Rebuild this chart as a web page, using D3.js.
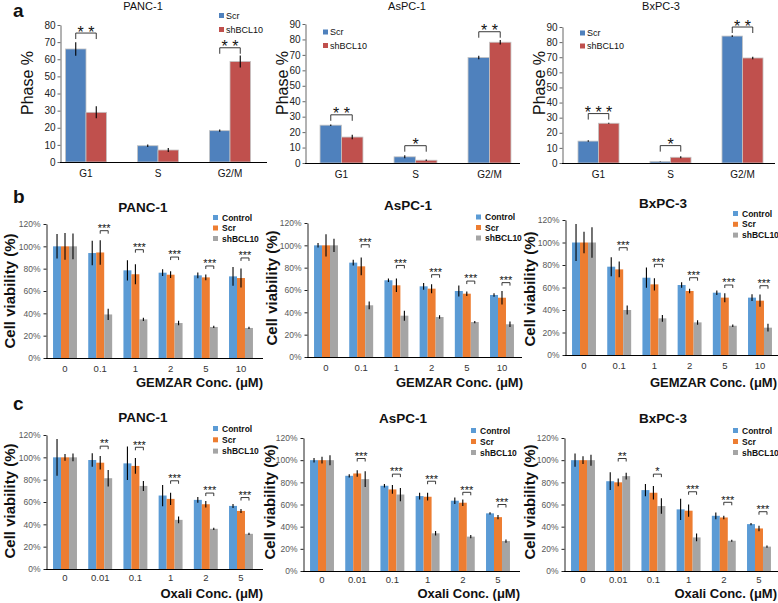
<!DOCTYPE html>
<html><head><meta charset="utf-8">
<script src="https://cdn.jsdelivr.net/npm/d3@7"></script>
<style>body{margin:0;background:#fff}svg{display:block}</style>
</head><body><svg id="c" width="778" height="603"></svg>
<script>
// ---------------- DATA ----------------
const PHASES = ["G1", "S", "G2/M"];
const PHASE_SERIES = ["Scr", "shBCL10"];

const A_PANC_SCR = [66, 9.5, 18.3];
const A_PANC_SCR_ERR = [4, 0.7, 0.7];
const A_PANC_SH = [29, 7, 58.7];
const A_PANC_SH_ERR = [3.5, 1.2, 3.5];
const A_PANC_STARS = ["* *", "", "* *"];
const A_PANC_BRACKET = [75.3, null, 66.7];

const A_AS_SCR = [24.5, 4, 68.3];
const A_AS_SCR_ERR = [0.5, 1, 1.2];
const A_AS_SH = [16.8, 1.8, 78.2];
const A_AS_SH_ERR = [1.5, 0.5, 1.5];
const A_AS_STARS = ["* *", "*", "* *"];
const A_AS_BRACKET = [31.2, 11.2, 85];

const A_BX_SCR = [14.5, 1, 84];
const A_BX_SCR_ERR = [0.5, 0.2, 0.6];
const A_BX_SH = [26.3, 3.8, 69.5];
const A_BX_SH_ERR = [0.4, 0.6, 0.8];
const A_BX_STARS = ["* * *", "*", "* *"];
const A_BX_BRACKET = [32.7, 11.5, 90];

const VIAB_SERIES = ["Control", "Scr", "shBCL10"];
const GEM_CONC = ["0", "0.1", "1", "2", "5", "10"];
const OXA_CONC = ["0", "0.01", "0.1", "1", "2", "5"];

const B_PANC_CTRL = [100, 94, 78.5, 76.4, 74, 73.1];
const B_PANC_CTRL_ERR = [11, 11, 9, 3, 2.5, 8.5];
const B_PANC_SCR = [100, 94.5, 75, 74.6, 72.2, 71.6];
const B_PANC_SCR_ERR = [12, 11, 9, 3, 2.5, 8.5];
const B_PANC_SH = [100, 39, 34.6, 31.3, 27.8, 26.9];
const B_PANC_SH_ERR = [11.5, 5, 1.5, 2, 1, 1];
const B_PANC_STARS = ["", "***", "***", "***", "***", "***"];
const B_PANC_BRACKET = [null, 114, 97, 90.4, 82.4, 89.6];

const B_AS_CTRL = [100, 84.5, 68.7, 63.3, 59.1, 55.5];
const B_AS_CTRL_ERR = [2, 2.5, 1.5, 3, 5, 1.5];
const B_AS_SCR = [100, 81.2, 64.2, 61.2, 56.7, 53.1];
const B_AS_SCR_ERR = [10, 8, 6, 4, 2, 6];
const B_AS_SH = [100, 46.3, 37, 35.8, 31.3, 29.3];
const B_AS_SH_ERR = [6, 3.5, 4.5, 1.5, 1, 2.5];
const B_AS_STARS = ["", "***", "***", "***", "***", "***"];
const B_AS_BRACKET = [null, 100.6, 82, 73.7, 68, 66.6];

const B_BX_CTRL = [100, 78.5, 68.7, 62.2, 55.4, 51];
const B_BX_CTRL_ERR = [16.5, 8.5, 9, 2.5, 2, 3];
const B_BX_SCR = [100, 76.1, 62.8, 56.9, 51, 48.3];
const B_BX_SCR_ERR = [9.5, 7, 5.5, 2, 4, 5.5];
const B_BX_SH = [100, 40, 32.6, 29, 26, 24.3];
const B_BX_SH_ERR = [13.5, 4, 3, 2, 1.2, 3.5];
const B_BX_STARS = ["", "***", "***", "***", "***", "***"];
const B_BX_BRACKET = [null, 95.4, 80.6, 68.7, 62.2, 61.6];

const C_PANC_CTRL = [100, 97.6, 94.6, 65.8, 61.9, 56.5];
const C_PANC_CTRL_ERR = [16.5, 6, 15, 9.5, 2.5, 1.8];
const C_PANC_SCR = [100, 95.2, 92.3, 62.8, 58, 52];
const C_PANC_SCR_ERR = [3, 6, 7, 5.5, 3, 1.8];
const C_PANC_SH = [100, 81.3, 74.4, 44, 36, 31.5];
const C_PANC_SH_ERR = [3.5, 7.4, 4.5, 3, 1, 1];
const C_PANC_STARS = ["", "**", "***", "***", "***", "***"];
const C_PANC_BRACKET = [null, 110, 109, 79, 68, 64];

const C_AS_CTRL = [100, 85.9, 76.9, 67.6, 63.4, 52];
const C_AS_CTRL_ERR = [2, 1.5, 1.5, 3, 3, 1];
const C_AS_SCR = [100, 88, 73.6, 67, 61.6, 48.6];
const C_AS_SCR_ERR = [3, 3, 4, 3.5, 3, 2];
const C_AS_SH = [100, 82.9, 69, 34, 31, 27];
const C_AS_SH_ERR = [4.5, 7, 6, 2, 1.5, 1.5];
const C_AS_STARS = ["", "***", "***", "***", "***", "***"];
const C_AS_BRACKET = [null, 101.5, 87.4, 81, 71, 60];

const C_BX_CTRL = [100, 81, 73, 55.6, 49.8, 42.3];
const C_BX_CTRL_ERR = [6, 8, 5.5, 9.5, 3, 1];
const C_BX_SCR = [100, 80, 70.6, 54.4, 48.3, 38.4];
const C_BX_SCR_ERR = [3.5, 3.5, 6, 5.5, 1.5, 2.5];
const C_BX_SH = [100, 85.6, 58.6, 30.3, 27.3, 22];
const C_BX_SH_ERR = [5, 3, 7, 3.5, 1, 1];
const C_BX_STARS = ["", "**", "*", "***", "***", "***"];
const C_BX_BRACKET = [null, 101.5, 87.4, 71.5, 62, 53.5];

// ---------------- DRAWING ----------------
const FONT = "'Liberation Sans', Arial, Helvetica, sans-serif";
const svg = d3.select("#c").attr("font-family", FONT);

function drawPanel(o) {
  const g = svg.append("g");
  const x0 = d3.scaleBand().domain(o.cats).range(o.band).paddingInner(o.pi).paddingOuter(o.po);
  const x1 = d3.scaleBand().domain(o.names).range([0, x0.bandwidth()]);
  const y = d3.scaleLinear().domain(o.yDomain).range(o.yRange);

  // y axis
  const yAxis = d3.axisLeft(y)
    .tickValues(d3.range(o.yDomain[0], o.yDomain[1] + 1e-9, o.yStep))
    .tickFormat(o.fmt).tickSizeInner(o.tick).tickSizeOuter(0).tickPadding(o.tickPad);
  const yg = g.append("g").attr("transform", `translate(${o.axisX + 0.5},0)`).call(yAxis)
    .attr("font-family", FONT).attr("font-size", o.yTickFont);
  yg.select(".domain").attr("stroke", o.yAxisColor);
  yg.selectAll(".tick line").attr("stroke", o.yAxisColor);
  yg.selectAll(".tick text").attr("fill", o.tickColor);

  // bars
  o.names.forEach((n, si) => {
    g.append("g").selectAll("rect").data(o.cats).join("rect")
      .attr("x", c => x0(c) + x1(n))
      .attr("width", x1.bandwidth())
      .attr("y", (c, i) => y(o.values[si][i]))
      .attr("height", (c, i) => y(0) - y(o.values[si][i]))
      .attr("fill", o.colors[si])
      .attr("stroke", o.barStroke)
      .attr("stroke-width", o.barStroke === "none" ? 0 : 0.8);
  });
  // error bars
  o.names.forEach((n, si) => {
    g.append("g").selectAll("line").data(o.cats).join("line")
      .attr("x1", c => x0(c) + x1(n) + x1.bandwidth() / 2)
      .attr("x2", c => x0(c) + x1(n) + x1.bandwidth() / 2)
      .attr("y1", (c, i) => y(o.values[si][i] - o.errs[si][i]))
      .attr("y2", (c, i) => y(o.values[si][i] + o.errs[si][i]))
      .attr("stroke", "#000").attr("stroke-width", 1.1);
  });

  // x axis
  const xg = g.append("g").attr("transform", `translate(0,${y(0)})`)
    .call(d3.axisBottom(x0).tickSize(0).tickPadding(o.xTickPad))
    .attr("font-family", FONT).attr("font-size", o.xTickFont);
  xg.select(".domain").remove();
  xg.selectAll("text").attr("fill", o.xTickColor);
  g.append("line").attr("x1", o.axisX).attr("x2", o.axisEnd)
    .attr("y1", Math.round(y(0)) + 0.5).attr("y2", Math.round(y(0)) + 0.5)
    .attr("stroke", "#000").attr("stroke-width", 1);

  // significance brackets
  o.cats.forEach((c, i) => {
    if (o.bracket[i] == null) return;
    const xa = x0(c) + x1(o.names[o.pair[0]]) + x1.bandwidth() / 2;
    const xb = x0(c) + x1(o.names[o.pair[1]]) + x1.bandwidth() / 2;
    const yb = y(o.bracket[i]);
    g.append("path").attr("d", `M${xa},${yb + o.bTick}V${yb}H${xb}V${yb + o.bTick}`)
      .attr("fill", "none").attr("stroke", "#222").attr("stroke-width", 0.9);
    g.append("text").attr("x", (xa + xb) / 2).attr("y", yb + o.starDy)
      .attr("text-anchor", "middle").attr("font-size", o.starFont).attr("fill", "#111")
      .text(o.stars[i]);
  });

  // legend
  o.names.forEach((n, si) => {
    const cy = o.leg.y + si * o.leg.dy;
    g.append("rect").attr("x", o.leg.x).attr("y", cy - o.legSize / 2)
      .attr("width", o.legSize).attr("height", o.legSize).attr("fill", o.colors[si]);
    g.append("text").attr("x", o.leg.x + o.legTextDx).attr("y", cy + o.legFont * 0.36)
      .attr("font-size", o.legFont).attr("font-weight", o.legWeight).attr("fill", "#111").text(n);
  });

  // title
  g.append("text").attr("x", o.title.x).attr("y", o.title.y).attr("text-anchor", "middle")
    .attr("font-size", o.titleFont).attr("font-weight", o.titleWeight).attr("fill", "#111").text(o.title.text);
  // y label
  g.append("text").attr("transform", `translate(${o.ylab.x},${o.ylab.y}) rotate(-90)`)
    .attr("text-anchor", "middle").attr("font-size", o.ylabFont).attr("font-weight", o.ylabWeight)
    .attr("fill", "#111").text(o.ylabText);
  // x label
  if (o.xlab) {
    g.append("text").attr("x", o.xlab.x).attr("y", o.xlab.y).attr("text-anchor", "end")
      .attr("font-size", o.xlabFont).attr("font-weight", "bold").attr("fill", "#111").text(o.xlab.text);
  }
}

const aStyle = {
  cats: PHASES, names: PHASE_SERIES, colors: ["#4f81bd", "#c0504d"], pair: [0, 1],
  pi: 0.43, po: 0.215, yStep: 10, fmt: d3.format("d"), tick: 3, tickPad: 2,
  yTickFont: 10, xTickFont: 10, xTickPad: 8, tickColor: "#222", xTickColor: "#111", yAxisColor: "#666",
  barStroke: "#c4c4c4", bTick: 6, starFont: 16, starDy: 4.5,
  legFont: 9, legWeight: "normal", legSize: 5, legTextDx: 7,
  titleFont: 11, titleWeight: "normal", ylabText: "Phase %", ylabFont: 16, ylabWeight: "normal"
};
const vStyle = {
  names: VIAB_SERIES, colors: ["#5b9bd5", "#ed7d31", "#a5a5a5"], pair: [1, 2],
  pi: 0.32, po: 0.2, yDomain: [0, 120], yStep: 20, fmt: d => d + "%", tick: 3, tickPad: 3,
  yTickFont: 8.5, xTickFont: 9.5, xTickPad: 7, tickColor: "#595959", xTickColor: "#333", yAxisColor: "#222",
  barStroke: "none", bTick: 3, starFont: 11, starDy: 1.3,
  legFont: 8.5, legWeight: "bold", legSize: 5, legTextDx: 9,
  titleFont: 13.5, titleWeight: "bold", ylabText: "Cell viability (%)", ylabFont: 15, ylabWeight: "bold",
  xlabFont: 13
};

// panel a
drawPanel(Object.assign({}, aStyle, {
  values: [A_PANC_SCR, A_PANC_SH], errs: [A_PANC_SCR_ERR, A_PANC_SH_ERR],
  stars: A_PANC_STARS, bracket: A_PANC_BRACKET,
  band: [50, 266], axisX: 60, axisEnd: 267, yDomain: [0, 80], yRange: [162, 25],
  title: {x: 143, y: 10, text: "PANC-1"}, ylab: {x: 33, y: 83}, leg: {x: 219, y: 15.5, dy: 14}
}));
drawPanel(Object.assign({}, aStyle, {
  values: [A_AS_SCR, A_AS_SH], errs: [A_AS_SCR_ERR, A_AS_SH_ERR],
  stars: A_AS_STARS, bracket: A_AS_BRACKET, pi: 0.42, po: 0.21,
  band: [304.5, 526.5], axisX: 305, axisEnd: 520, yDomain: [0, 90], yRange: [163, 24],
  title: {x: 407, y: 10, text: "AsPC-1"}, ylab: {x: 288, y: 83}, leg: {x: 323, y: 32, dy: 13.5}
}));
drawPanel(Object.assign({}, aStyle, {
  values: [A_BX_SCR, A_BX_SH], errs: [A_BX_SCR_ERR, A_BX_SH_ERR],
  stars: A_BX_STARS, bracket: A_BX_BRACKET,
  band: [562.5, 778.5], axisX: 562, axisEnd: 775, yDomain: [0, 90], yRange: [163, 27],
  title: {x: 661, y: 10, text: "BxPC-3"}, ylab: {x: 545, y: 83}, leg: {x: 580, y: 33, dy: 13}
}));

// panel b
drawPanel(Object.assign({}, vStyle, {
  cats: GEM_CONC, values: [B_PANC_CTRL, B_PANC_SCR, B_PANC_SH],
  errs: [B_PANC_CTRL_ERR, B_PANC_SCR_ERR, B_PANC_SH_ERR], stars: B_PANC_STARS, bracket: B_PANC_BRACKET,
  band: [46, 260], axisX: 46, axisEnd: 263, yRange: [358, 224],
  title: {x: 143, y: 212, text: "PANC-1"}, ylab: {x: 15, y: 291}, leg: {x: 213, y: 217.5, dy: 10.5},
  xlab: {x: 263, y: 387, text: "GEMZAR Conc. (μM)"}
}));
drawPanel(Object.assign({}, vStyle, {
  cats: GEM_CONC, values: [B_AS_CTRL, B_AS_SCR, B_AS_SH],
  errs: [B_AS_CTRL_ERR, B_AS_SCR_ERR, B_AS_SH_ERR], stars: B_AS_STARS, bracket: B_AS_BRACKET,
  band: [307, 521], axisX: 307, axisEnd: 522, yRange: [357, 223],
  title: {x: 408, y: 210, text: "AsPC-1"}, ylab: {x: 277, y: 288}, leg: {x: 476, y: 217, dy: 10.5},
  xlab: {x: 523, y: 387, text: "GEMZAR Conc. (μM)"}
}));
drawPanel(Object.assign({}, vStyle, {
  cats: GEM_CONC, values: [B_BX_CTRL, B_BX_SCR, B_BX_SH],
  errs: [B_BX_CTRL_ERR, B_BX_SCR_ERR, B_BX_SH_ERR], stars: B_BX_STARS, bracket: B_BX_BRACKET,
  band: [565, 779], axisX: 565, axisEnd: 778, yRange: [355, 220],
  title: {x: 663, y: 208, text: "BxPC-3"}, ylab: {x: 535, y: 289}, leg: {x: 733, y: 213.5, dy: 10.8},
  xlab: {x: 777, y: 387, text: "GEMZAR Conc. (μM)"}
}));

// panel c
const cStyle = Object.assign({}, vStyle, {cats: OXA_CONC, xTickPad: 5});
drawPanel(Object.assign({}, cStyle, {
  values: [C_PANC_CTRL, C_PANC_SCR, C_PANC_SH],
  errs: [C_PANC_CTRL_ERR, C_PANC_SCR_ERR, C_PANC_SH_ERR], stars: C_PANC_STARS, bracket: C_PANC_BRACKET,
  band: [46, 260], axisX: 46, axisEnd: 263, yRange: [569, 435],
  title: {x: 143, y: 422, text: "PANC-1"}, ylab: {x: 15, y: 501}, leg: {x: 213, y: 428.5, dy: 11.3},
  xlab: {x: 263, y: 598, text: "Oxali Conc. (μM)"}
}));
drawPanel(Object.assign({}, cStyle, {
  values: [C_AS_CTRL, C_AS_SCR, C_AS_SH],
  errs: [C_AS_CTRL_ERR, C_AS_SCR_ERR, C_AS_SH_ERR], stars: C_AS_STARS, bracket: C_AS_BRACKET,
  band: [303, 517], axisX: 303, axisEnd: 520, yRange: [571, 438],
  title: {x: 403, y: 423, text: "AsPC-1"}, ylab: {x: 275, y: 502}, leg: {x: 471, y: 430.5, dy: 11},
  xlab: {x: 520, y: 598, text: "Oxali Conc. (μM)"}
}));
drawPanel(Object.assign({}, cStyle, {
  values: [C_BX_CTRL, C_BX_SCR, C_BX_SH],
  errs: [C_BX_CTRL_ERR, C_BX_SCR_ERR, C_BX_SH_ERR], stars: C_BX_STARS, bracket: C_BX_BRACKET,
  band: [564, 778], axisX: 564, axisEnd: 778, yRange: [571, 438],
  title: {x: 663, y: 423, text: "BxPC-3"}, ylab: {x: 535, y: 502}, leg: {x: 733, y: 430.5, dy: 11},
  xlab: {x: 777, y: 598, text: "Oxali Conc. (μM)"}
}));

// panel letters
[["a", 17], ["b", 203], ["c", 410]].forEach(([t, yy]) => {
  svg.append("text").attr("x", 13).attr("y", yy).attr("font-size", 19).attr("font-weight", "bold")
    .attr("fill", "#111").text(t);
});
</script>
</body></html>
